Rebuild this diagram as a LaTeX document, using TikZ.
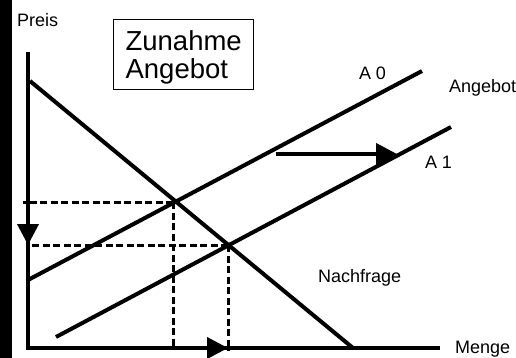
\documentclass[tikz,border=0pt]{standalone}
\usepackage{fontspec}
\setmainfont{Liberation Sans}
\usetikzlibrary{arrows.meta}

\begin{document}
\begin{tikzpicture}[x=1pt,y=-1pt,line width=4pt,
  >={Triangle[length=21pt,width=21pt]}]
  \tikzstyle{guide}=[line width=3pt,dash pattern=on 7pt off 3.5pt]
  \tikzstyle{label}=[anchor=base west,inner sep=0pt,font=\fontsize{18}{20}\selectfont]

  \useasboundingbox (0,0) rectangle (516,358);
  \fill (0,0) rectangle (12,358);

  \coordinate (O)    at (28,348);
  \coordinate (Ytop) at (28,52);
  \coordinate (Xend) at (440,348);
  \coordinate (N0)   at (30,81);
  \coordinate (N1)   at (353,348);
  \coordinate (A0s)  at (28,280);
  \coordinate (A0e)  at (422,71);
  \coordinate (A1s)  at (56,337);
  \coordinate (A1e)  at (451,127);
  \coordinate (E0)   at (173,202);
  \coordinate (E1)   at (228,245);
  \coordinate (S0)   at (276,154);
  \coordinate (S1)   at (397,154);

  \node[draw,line width=1.2pt,anchor=north west,align=left,inner xsep=12pt,
    inner ysep=11pt,text height=48pt,text depth=0pt,
    font=\fontsize{27.5}{28}\selectfont] (box) at (113,19) {Zunahme\\Angebot};

  \node[label] (preis)    at (15,27)   {Preis};
  \node[label] (a0)       at (357,80)  {A 0};
  \node[label] (angebot)  at (447,93)  {Angebot};
  \node[label] (a1)       at (423,168) {A 1};
  \node[label] (nachfrage) at (316,282) {Nachfrage};
  \node[label] (menge)    at (453,353) {Menge};

  \draw[guide] (E0) -- (23,202);
  \draw[guide] (E0) -- (E0 |- O);
  \draw[guide] (E1) -- (E1 -| O);
  \draw[guide] (E1) -- ([yshift=-3pt]E1 |- O);

  \draw (Ytop) -- (O) -- (Xend);
  \draw (N0) -- (N1);
  \draw (A0s) -- (A0e);
  \draw (A1s) -- (A1e);

  \draw[->] (E0 -| O) -- (E1 -| O);
  \draw[->] (E0 |- O) -- (E1 |- O);
  \draw[->] (S0) -- (S1);
\end{tikzpicture}
\end{document}
